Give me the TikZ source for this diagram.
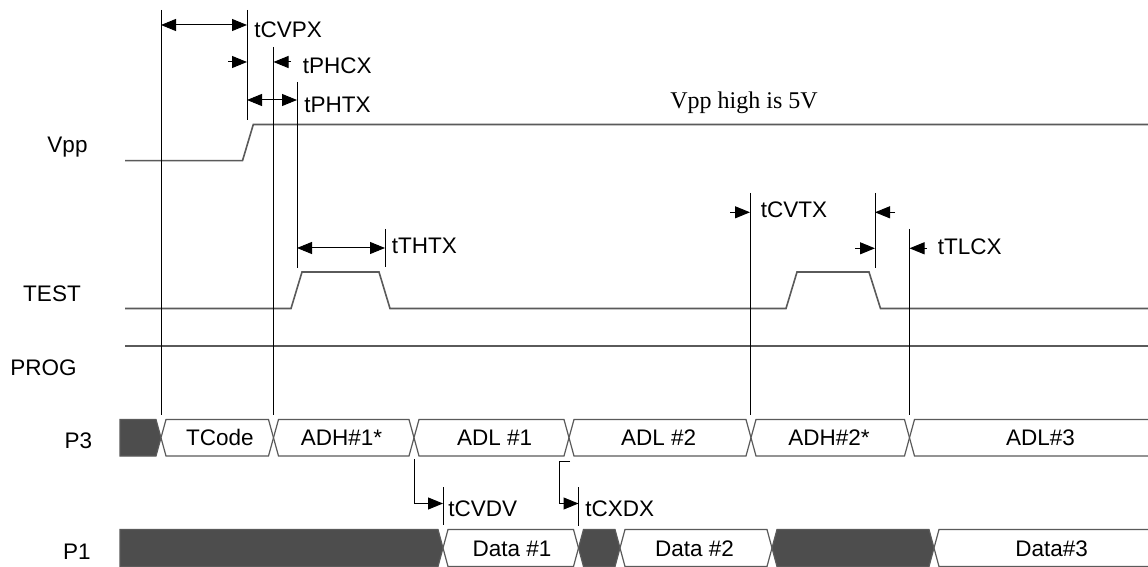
\documentclass[tikz,border=0pt]{standalone}
\usepackage{fontspec}
\setmainfont{Liberation Sans}
\newfontfamily\timesfont{Liberation Serif}
\usetikzlibrary{arrows.meta}
\definecolor{sig}{HTML}{5A5A5A}
\definecolor{busfill}{HTML}{4D4D4D}
\begin{document}
\begin{tikzpicture}[x=0.5pt,y=-0.5pt,
  lbl/.style={inner sep=0pt, font=\fontsize{11.25}{13}\selectfont},
  serlbl/.style={inner sep=0pt, font=\timesfont\fontsize{12}{14}\selectfont},
  guide/.style={black, line width=0.5pt},
  sigline/.style={sig, line width=0.8pt},
  bus/.style={draw=sig, line width=0.6pt, fill=white},
  busdark/.style={draw=sig, line width=0.6pt, fill=busfill},
  tip/.style={-{Triangle[length=7.5pt,width=6pt]}, line width=0.5pt},
  tips/.style={{Triangle[length=7.5pt,width=6pt]}-{Triangle[length=7.5pt,width=6pt]}, line width=0.5pt}]
\useasboundingbox[fill=white] (0,0) rectangle (1148,567);

% signal names
\node[lbl, anchor=base] (vpp) at (67.5,153) {Vpp};
\node[lbl, anchor=base] (test) at (52,301.5) {TEST};
\node[lbl, anchor=base] (prog) at (43.5,375) {PROG};
\node[lbl, anchor=base] (p3) at (78.5,448) {P3};
\node[lbl, anchor=base] (p1) at (77,559) {P1};

% waveforms
\draw[sigline] (125,160.7) -- (242.5,160.7) -- (253.3,124.5) -- (1148,124.5);
\draw[sigline] (125,308.5) -- (291,308.5) -- (302,272) -- (379,272) -- (390,308.5)
  -- (786,308.5) -- (797,272) -- (869,272) -- (880.5,308.5) -- (1148,308.5);
\draw[sigline] (125,346) -- (1148,346);

% P3 bus
\draw[busdark] (120,419.5) -- (156,419.5) -- (161,437.75) -- (156,456) -- (120,456) -- cycle;
\foreach \a/\b in {161/273.5, 273.5/414, 414/569, 569/751, 751/909.5}
  \draw[bus] (\a,437.75) -- (\a+5,419.5) -- (\b-5,419.5) -- (\b,437.75) -- (\b-5,456) -- (\a+5,456) -- cycle;
\draw[bus] (1148,419.5) -- (914.5,419.5) -- (909.5,437.75) -- (914.5,456) -- (1148,456);

% P1 bus
\draw[busdark] (120,529.5) -- (438,529.5) -- (443,548) -- (438,566.5) -- (120,566.5) -- cycle;
\draw[bus] (443,548) -- (448,529.5) -- (573.5,529.5) -- (578.5,548) -- (573.5,566.5) -- (448,566.5) -- cycle;
\draw[busdark] (578.5,548) -- (583.5,529.5) -- (615,529.5) -- (620,548) -- (615,566.5) -- (583.5,566.5) -- cycle;
\draw[bus] (620,548) -- (625,529.5) -- (767,529.5) -- (772,548) -- (767,566.5) -- (625,566.5) -- cycle;
\draw[busdark] (772,548) -- (777,529.5) -- (929,529.5) -- (934,548) -- (929,566.5) -- (777,566.5) -- cycle;
\draw[bus] (1148,529.5) -- (939,529.5) -- (934,548) -- (939,566.5) -- (1148,566.5);

% bus texts
\node[lbl, anchor=base] (tcode) at (220,445.7) {TCode};
\node[lbl, anchor=base] (adh1) at (341.5,445.7) {ADH\#1*};
\node[lbl, anchor=base] (adl1) at (494.7,445.7) {ADL \#1};
\node[lbl, anchor=base] (adl2) at (658.7,445.7) {ADL \#2};
\node[lbl, anchor=base] (adh2) at (829,445.7) {ADH\#2*};
\node[lbl, anchor=base] (adl3) at (1040.5,445.7) {ADL\#3};
\node[lbl, anchor=base] (data1) at (512,556) {Data \#1};
\node[lbl, anchor=base] (data2) at (694.6,556) {Data \#2};
\node[lbl, anchor=base] (data3) at (1051.7,556) {Data\#3};

% guide lines
\coordinate (g1t) at (161,10);    \coordinate (g1b) at (161,415);
\coordinate (g2t) at (247,10);    \coordinate (g2b) at (247,120.5);
\coordinate (g3t) at (273.5,47);  \coordinate (g3b) at (273.5,415);
\coordinate (g4t) at (297,82);    \coordinate (g4b) at (297,268);
\coordinate (g5t) at (385,229);   \coordinate (g5b) at (385,267);
\coordinate (g6t) at (750,193);   \coordinate (g6b) at (750,415);
\coordinate (g7t) at (875,193);   \coordinate (g7b) at (875,268);
\coordinate (g8t) at (909.5,229); \coordinate (g8b) at (909.5,415);
\coordinate (g9t) at (443,487);   \coordinate (g9b) at (443,525);
\coordinate (g10t) at (578.5,487); \coordinate (g10b) at (578.5,526);
\foreach \g in {1,...,10} \draw[guide] (g\g t) -- (g\g b);

% timing arrows
\draw[tips] (161,25) -- (247,25);
\draw[tip] (228,62) -- (247,62);
\draw[tip] (291,62) -- (273.5,62);
\draw[tips] (247,100) -- (297,100);
\draw[tips] (297,248) -- (385,248);
\draw[tip] (730,212.3) -- (750,212.3);
\draw[tip] (895,212.3) -- (875,212.3);
\draw[tip] (855,248.3) -- (875,248.3);
\draw[tip] (927,248.3) -- (909.5,248.3);
\draw[tip] (414,459) -- (414,503.5) -- (443,503.5);
\draw[tip] (570,461) -- (559,461) -- (559,503.5) -- (578.5,503.5);

% timing labels
\node[lbl, anchor=base west] (tcvpx) at (254,37.3) {tCVPX};
\node[lbl, anchor=base west] (tphcx) at (302.5,74) {tPHCX};
\node[lbl, anchor=base west] (tphtx) at (304,112.7) {tPHTX};
\node[lbl, anchor=base west] (tthtx) at (391.5,254) {tTHTX};
\node[lbl, anchor=base west] (tcvtx) at (760.5,217.3) {tCVTX};
\node[lbl, anchor=base west] (ttlcx) at (937.5,255) {tTLCX};
\node[lbl, anchor=base west] (tcvdv) at (448,516.7) {tCVDV};
\node[lbl, anchor=base west] (tcxdx) at (585,516.7) {tCXDX};
\node[serlbl, anchor=base] (vhigh) at (744,109) {Vpp high is 5V};
\end{tikzpicture}
\end{document}
